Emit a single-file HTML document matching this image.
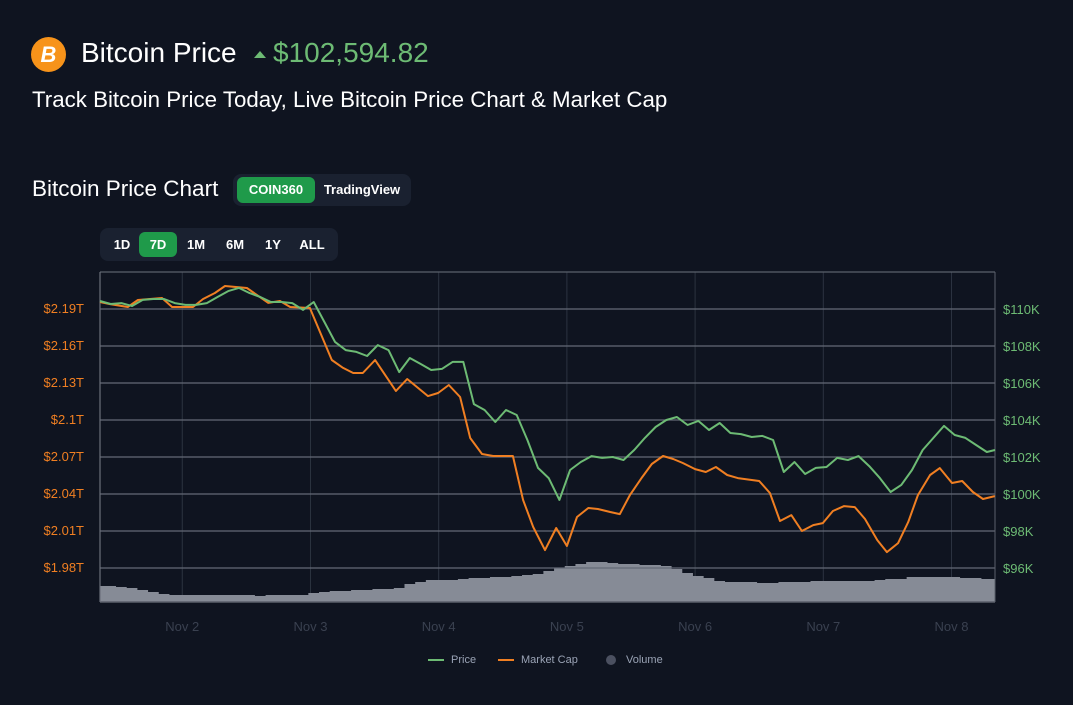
<!DOCTYPE html>
<html><head><meta charset="utf-8">
<style>
body{margin:0;width:1073px;height:705px;background:#0f1420;font-family:"Liberation Sans",sans-serif;overflow:hidden;position:relative;color:#fff}
.abs{position:absolute}
</style></head><body>
<div class="abs" style="left:31px;top:37px;width:35px;height:35px;border-radius:50%;background:#f7931a;color:#fff;font-weight:bold;font-size:22px;text-align:center;line-height:35px;font-style:italic">B</div>
<div class="abs" style="left:81px;top:37px;font-size:28px;color:#fff">Bitcoin Price</div>
<div class="abs" style="left:254px;top:51px;width:0;height:0;border-left:6px solid transparent;border-right:6px solid transparent;border-bottom:7px solid #6dbb74"></div>
<div class="abs" style="left:273px;top:37px;font-size:28px;color:#6dbb74">$102,594.82</div>
<div class="abs" style="left:32px;top:87px;font-size:22.3px;color:#fff">Track Bitcoin Price Today, Live Bitcoin Price Chart &amp; Market Cap</div>
<div class="abs" style="left:32px;top:176px;font-size:22.5px;color:#fff">Bitcoin Price Chart</div>
<div class="abs" style="left:233px;top:174px;width:178px;height:32px;border-radius:8px;background:#1a2130"></div>
<div class="abs" style="left:237px;top:177px;width:78px;height:26px;border-radius:6px;background:#1f9a4a;color:#fff;font-size:13px;font-weight:bold;text-align:center;line-height:26px">COIN360</div>
<div class="abs" style="left:318px;top:177px;width:88px;height:26px;color:#fff;font-size:13px;font-weight:bold;text-align:center;line-height:26px">TradingView</div>
<div class="abs" style="left:100px;top:228px;width:238px;height:33px;border-radius:8px;background:#1a2130"></div>
<div class="abs" style="left:110px;top:234px;width:24px;font-size:13px;font-weight:bold;line-height:22px;text-align:center">1D</div>
<div class="abs" style="left:139px;top:232px;width:38px;height:25px;border-radius:6px;background:#1f9a4a;font-size:13px;font-weight:bold;line-height:25px;text-align:center">7D</div>
<div class="abs" style="left:183px;top:234px;width:26px;font-size:13px;font-weight:bold;line-height:22px;text-align:center">1M</div>
<div class="abs" style="left:222px;top:234px;width:26px;font-size:13px;font-weight:bold;line-height:22px;text-align:center">6M</div>
<div class="abs" style="left:262px;top:234px;width:22px;font-size:13px;font-weight:bold;line-height:22px;text-align:center">1Y</div>
<div class="abs" style="left:297px;top:234px;width:30px;font-size:13px;font-weight:bold;line-height:22px;text-align:center">ALL</div>

<svg class="abs" style="left:0;top:0" width="1073" height="705" id="chart"></svg>

<script>
const priceK=[110.43,110.27,110.32,110.16,110.49,110.54,110.54,110.32,110.22,110.22,110.32,110.65,110.97,111.14,110.86,110.65,110.38,110.38,110.32,109.95,110.38,109.30,108.22,107.78,107.68,107.46,108.05,107.78,106.59,107.35,107.03,106.70,106.76,107.14,107.14,104.86,104.54,103.89,104.54,104.27,102.92,101.41,100.86,99.68,101.30,101.73,102.05,101.95,102.00,101.84,102.38,103.03,103.62,104.00,104.16,103.73,103.95,103.46,103.84,103.30,103.24,103.08,103.14,102.92,101.19,101.73,101.08,101.41,101.46,101.95,101.84,102.05,101.51,100.86,100.11,100.49,101.30,102.38,103.03,103.68,103.19,103.03,102.65,102.27,102.38];
const volumeB=[16,16,15,14,12,10,8,7,7,7,7,7,7,7,7,6,7,7,7,7,9,10,11,11,12,12,13,13,14,18,20,22,22,22,23,24,24,25,25,26,27,28,31,34,36,38,40,40,39,38,38,37,37,36,33,29,26,24,21,20,20,20,19,19,20,20,20,21,21,21,21,21,21,22,23,23,25,25,25,25,25,24,24,23,23];
const mcapHours=[0,1.9,5.2,7.1,11.6,13.5,17.4,19.3,21.5,23.4,27.5,31.5,33.7,35.6,39.3,43.4,45.5,47.4,49.2,51.5,55.4,57.5,61.4,63.3,65.3,67.4,69.3,71.5,73.6,77.3,79.2,81.1,83.3,85.4,87.4,89.3,91.4,93.2,95.5,97.3,99.2,101.5,103.3,105.4,107.3,109.1,111.4,113.4,115.3,117.4,119.4,123.4,125.4,127.3,129.4,131.4,133.5,135.3,137.2,139.3,141.3,143.2,145.5,147.3,149.4,151.3,153.1,155.4,157.2,159.5,161.4,163.4,165.3,167.5];
const mcapT=[2.1949,2.1932,2.1908,2.1965,2.1981,2.1908,2.1908,2.1973,2.2022,2.2078,2.2062,2.1941,2.1957,2.1908,2.19,2.1478,2.1414,2.1373,2.1373,2.1478,2.1227,2.1324,2.1186,2.1211,2.1276,2.1178,2.0846,2.0716,2.07,2.07,2.0343,2.0124,1.9937,2.0116,1.997,2.0205,2.0278,2.027,2.0246,2.0229,2.0383,2.0529,2.0635,2.07,2.0676,2.0643,2.0594,2.057,2.0611,2.0546,2.0521,2.0497,2.04,2.0173,2.0221,2.0092,2.014,2.0156,2.0254,2.0294,2.0286,2.0189,2.0018,1.9921,1.9994,2.0164,2.0383,2.0546,2.0602,2.0481,2.0497,2.0408,2.0351,2.0375];
const priceTicks=[110,108,106,104,102,100,98,96];
const capTicks=[2.19,2.16,2.13,2.1,2.07,2.04,2.01,1.98];
const capTickLabels=["$2.19T","$2.16T","$2.13T","$2.1T","$2.07T","$2.04T","$2.01T","$1.98T"];
const dayLabels=["Nov 2","Nov 3","Nov 4","Nov 5","Nov 6","Nov 7","Nov 8"];
const dayHours=[15.4,39.4,63.4,87.4,111.4,135.4,159.4];
const stepHours=2;

const L=100,R=995,T=272,B=602;
const xH=h=>L+h*5.342;
const yP=p=>494-(p-100)*18.5;
const yC=c=>308+(2.19-c)/0.03*37;
const maxV=40;
const yV=v=>B-v/maxV*40;
const svg=document.getElementById('chart');
const NS='http://www.w3.org/2000/svg';
function mk(t,a){const e=document.createElementNS(NS,t);for(const k in a)e.setAttribute(k,a[k]);svg.appendChild(e);return e;}

dayHours.forEach((h,i)=>{
  const g=mk('line',{x1:xH(h),x2:xH(h),y1:T,y2:B,stroke:'#2c3340','stroke-width':1});
  
  
  const t=mk('text',{x:xH(h),y:631,fill:'#3a4150','font-size':13,'text-anchor':'middle','font-family':'Liberation Sans'});
  t.textContent=dayLabels[i];
  
  
});
let vd=`M${L},${B}`;
volumeB.forEach((v,i)=>{const x0=xH(Math.max(0,i*stepHours-1)),x1=Math.min(R,xH(i*stepHours+1));vd+=` L${x0},${yV(v)} L${x1},${yV(v)}`;});
vd+=` L${R},${B} Z`;
const va=mk('path',{d:vd,fill:'#868b96'});


priceTicks.forEach((p,i)=>{
  const g=mk('line',{x1:L,x2:R,y1:yP(p),y2:yP(p),stroke:'#646976','stroke-width':1.2});
  
  
  const t=mk('text',{x:1003,y:yP(p)+5,fill:'#6dbb74','font-size':13,'font-family':'Liberation Sans'});
  t.textContent='$'+p+'K';
  
  
});
capTicks.forEach((c,i)=>{
  const t=mk('text',{x:84,y:yC(c)+5,fill:'#f07f22','font-size':13,'text-anchor':'end','font-family':'Liberation Sans'});
  t.textContent=capTickLabels[i];
  
  
});
const bt=mk('line',{x1:L,x2:R,y1:T,y2:T,stroke:'#5b606b','stroke-width':1.2});


const bb=mk('line',{x1:L,x2:R,y1:B,y2:B,stroke:'#5b606b','stroke-width':1.5});


const bl=mk('line',{x1:L,x2:L,y1:T,y2:B,stroke:'#6b707b','stroke-width':1.2});


const br=mk('line',{x1:R,x2:R,y1:T,y2:B,stroke:'#5b606b','stroke-width':1});


const cd=mcapHours.map((h,i)=>(i?'L':'M')+xH(h).toFixed(1)+','+yC(mcapT[i]).toFixed(1)).join(' ');
const cl=mk('path',{d:cd,fill:'none',stroke:'#f07f22','stroke-width':2,'stroke-linejoin':'round'});


const pd=priceK.map((p,i)=>(i?'L':'M')+Math.min(R,xH(i*stepHours)).toFixed(1)+','+yP(p).toFixed(1)).join(' ');
const pl=mk('path',{d:pd,fill:'none',stroke:'#6dbb74','stroke-width':2,'stroke-linejoin':'round'});


</script>

<div class="abs" style="left:428px;top:654px;font-size:11px;color:#9aa3b5"><span style="display:inline-block;width:16px;height:2px;background:#6dbb74;vertical-align:middle;margin-right:7px"></span>Price</div>
<div class="abs" style="left:498px;top:654px;font-size:11px;color:#9aa3b5"><span style="display:inline-block;width:16px;height:2px;background:#f07f22;vertical-align:middle;margin-right:7px"></span>Market Cap</div>
<div class="abs" style="left:606px;top:654px;font-size:11px;color:#9aa3b5"><span style="display:inline-block;width:10px;height:10px;border-radius:50%;background:#4b5060;vertical-align:middle;margin-right:10px"></span>Volume</div>
</body></html>
